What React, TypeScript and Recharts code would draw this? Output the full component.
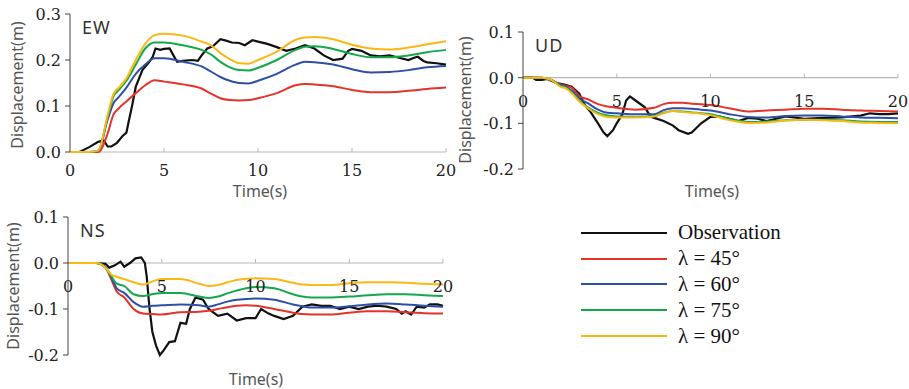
import React from "react";
import { LineChart, Line, XAxis, YAxis, ReferenceLine } from "recharts";

const X_TICKS = [0, 5, 10, 15, 20];

const SERIES_NAMES = ["Observation", "λ = 45°", "λ = 60°", "λ = 75°", "λ = 90°"];
const COLORS = ["#111111", "#e5332a", "#2f4ea5", "#14a84b", "#fbb715"];

// shared time grid for the simulated curves
const MODEL_T = [0, 1, 1.5, 2, 2.3, 2.6, 3, 3.5, 4, 4.5, 5, 6, 7, 7.5, 8, 8.5, 9, 9.5, 10, 11, 12, 12.5, 13, 14, 15, 16, 17, 18, 19, 20];

// ---- EW ----
const EW_Y_TICKS = [0, 0.1, 0.2, 0.3];
const EW_OBS = [
  [0, 0], [0.5, 0], [1, 0.01], [1.5, 0.022], [1.8, 0.025], [2, 0.012], [2.2, 0.012], [2.5, 0.02], [2.8, 0.035],
  [3, 0.042], [3.1, 0.062], [3.3, 0.1], [3.5, 0.142], [3.85, 0.178], [4.2, 0.195], [4.4, 0.207], [4.55, 0.225],
  [4.8, 0.222], [5, 0.224], [5.3, 0.225], [5.5, 0.21], [5.7, 0.196], [6, 0.198], [6.5, 0.2], [6.8, 0.198],
  [7, 0.21], [7.3, 0.225], [7.6, 0.23], [8, 0.245], [8.3, 0.242], [8.6, 0.238], [9, 0.237], [9.3, 0.232],
  [9.7, 0.243], [10, 0.24], [10.5, 0.235], [11, 0.228], [11.5, 0.22], [12, 0.225], [12.5, 0.232], [13, 0.225],
  [13.5, 0.21], [14, 0.2], [14.5, 0.203], [14.8, 0.22], [15, 0.224], [15.5, 0.22], [16, 0.21], [16.5, 0.208],
  [17, 0.21], [17.5, 0.205], [18, 0.2], [18.3, 0.205], [18.5, 0.207], [18.8, 0.198], [19, 0.195], [19.5, 0.193], [20, 0.19],
];
const EW_45 = [0, 0, 0, 0.04, 0.08, 0.095, 0.11, 0.128, 0.145, 0.156, 0.153, 0.147, 0.138, 0.127, 0.117, 0.113, 0.112, 0.113, 0.117, 0.128, 0.145, 0.148, 0.147, 0.143, 0.135, 0.13, 0.13, 0.133, 0.137, 0.14];
const EW_60 = [0, 0, 0.003, 0.07, 0.105, 0.12, 0.14, 0.17, 0.19, 0.204, 0.204, 0.196, 0.186, 0.175, 0.163, 0.155, 0.15, 0.149, 0.155, 0.17, 0.19, 0.196, 0.195, 0.19, 0.18, 0.173, 0.174, 0.178, 0.184, 0.187];
const EW_75 = [0, 0, 0.003, 0.075, 0.12, 0.135, 0.155, 0.19, 0.225, 0.238, 0.238, 0.232, 0.222, 0.212, 0.196, 0.184, 0.178, 0.177, 0.183, 0.2, 0.222, 0.229, 0.23, 0.224, 0.213, 0.206, 0.206, 0.21, 0.217, 0.222];
const EW_90 = [0, 0, 0.003, 0.08, 0.125, 0.14, 0.16, 0.2, 0.235, 0.254, 0.257, 0.253, 0.24, 0.232, 0.215, 0.202, 0.193, 0.192, 0.2, 0.218, 0.244, 0.249, 0.25, 0.245, 0.233, 0.225, 0.223, 0.227, 0.234, 0.241];

// ---- UD ----
const UD_Y_TICKS = [-0.2, -0.1, 0, 0.1];
const UD_OBS = [
  [0, 0], [0.5, 0], [0.7, -0.005], [1, -0.005], [1.3, -0.003], [1.8, -0.012], [2.2, -0.015], [2.6, -0.02],
  [3, -0.035], [3.3, -0.06], [3.6, -0.075], [4, -0.1], [4.3, -0.12], [4.5, -0.128], [4.8, -0.115], [5, -0.1],
  [5.3, -0.08], [5.5, -0.05], [5.7, -0.041], [6, -0.05], [6.5, -0.065], [6.8, -0.085], [7, -0.088], [7.5, -0.095],
  [8, -0.105], [8.3, -0.115], [8.8, -0.123], [9, -0.12], [9.5, -0.1], [10, -0.086], [10.5, -0.085], [11, -0.09],
  [11.5, -0.095], [12, -0.088], [12.5, -0.09], [13, -0.095], [13.5, -0.09], [14, -0.085], [15, -0.09], [16, -0.088],
  [17, -0.087], [18, -0.083], [18.5, -0.078], [19, -0.08], [19.5, -0.08], [20, -0.078],
];
const UD_45 = [0, 0, -0.005, -0.015, -0.018, -0.022, -0.04, -0.048, -0.058, -0.063, -0.066, -0.07, -0.066, -0.058, -0.055, -0.055, -0.057, -0.058, -0.06, -0.067, -0.074, -0.073, -0.072, -0.07, -0.068, -0.068, -0.07, -0.072, -0.073, -0.074];
const UD_60 = [0, 0, -0.005, -0.016, -0.02, -0.028, -0.045, -0.057, -0.07, -0.077, -0.078, -0.08, -0.08, -0.071, -0.067, -0.067, -0.068, -0.07, -0.072, -0.08, -0.086, -0.087, -0.087, -0.084, -0.083, -0.083, -0.085, -0.087, -0.088, -0.089];
const UD_75 = [0, 0, -0.005, -0.018, -0.022, -0.032, -0.05, -0.066, -0.077, -0.083, -0.085, -0.086, -0.084, -0.077, -0.073, -0.074, -0.076, -0.078, -0.08, -0.09, -0.097, -0.097, -0.096, -0.093, -0.092, -0.092, -0.093, -0.096, -0.097, -0.097];
const UD_90 = [0, 0, -0.005, -0.02, -0.024, -0.034, -0.052, -0.068, -0.08, -0.086, -0.087, -0.087, -0.085, -0.078, -0.073, -0.075, -0.077, -0.079, -0.082, -0.093, -0.099, -0.099, -0.098, -0.094, -0.092, -0.093, -0.095, -0.098, -0.099, -0.1];

// ---- NS ----
const NS_Y_TICKS = [-0.2, -0.1, 0, 0.1];
const NS_OBS = [
  [0, 0], [1.5, 0], [2, -0.002], [2.2, -0.01], [2.5, -0.005], [2.8, 0.003], [3, -0.008], [3.3, 0], [3.6, 0.01],
  [3.9, 0.012], [4.1, 0], [4.2, -0.03], [4.35, -0.1], [4.5, -0.15], [4.7, -0.18], [4.9, -0.2], [5.1, -0.19],
  [5.4, -0.172], [5.7, -0.17], [6, -0.13], [6.3, -0.132], [6.5, -0.1], [6.8, -0.075], [7.2, -0.08], [7.5, -0.1],
  [8, -0.115], [8.5, -0.11], [9, -0.125], [9.5, -0.12], [10, -0.12], [10.3, -0.1], [10.7, -0.11], [11, -0.115],
  [11.5, -0.122], [12, -0.115], [12.5, -0.095], [13, -0.09], [13.5, -0.093], [14, -0.093], [14.5, -0.1], [15, -0.095],
  [15.5, -0.1], [16, -0.095], [16.5, -0.093], [17, -0.095], [17.5, -0.1], [17.8, -0.11], [18, -0.105], [18.3, -0.112],
  [18.6, -0.095], [19, -0.097], [19.3, -0.09], [19.7, -0.09], [20, -0.093],
];
const NS_45 = [0, 0, 0, -0.01, -0.035, -0.062, -0.075, -0.1, -0.11, -0.111, -0.112, -0.107, -0.106, -0.104, -0.1, -0.096, -0.093, -0.092, -0.093, -0.1, -0.108, -0.111, -0.112, -0.112, -0.108, -0.105, -0.105, -0.107, -0.109, -0.11];
const NS_60 = [0, 0, 0, -0.01, -0.03, -0.055, -0.065, -0.085, -0.095, -0.093, -0.092, -0.09, -0.092, -0.095, -0.09, -0.084, -0.08, -0.078, -0.077, -0.08, -0.09, -0.094, -0.097, -0.097, -0.094, -0.09, -0.088, -0.09, -0.093, -0.095];
const NS_75 = [0, 0, 0, -0.01, -0.028, -0.045, -0.05, -0.068, -0.072, -0.068, -0.065, -0.065, -0.073, -0.076, -0.073, -0.066, -0.06, -0.055, -0.052, -0.055, -0.068, -0.073, -0.075, -0.075, -0.073, -0.07, -0.068, -0.068, -0.07, -0.072];
const NS_90 = [0, 0, 0, -0.01, -0.025, -0.03, -0.035, -0.042, -0.047, -0.04, -0.035, -0.035, -0.045, -0.05, -0.048, -0.042, -0.037, -0.034, -0.033, -0.035, -0.043, -0.047, -0.048, -0.048, -0.044, -0.042, -0.042, -0.043, -0.045, -0.047];

const pairs = (p: number[][]) => p.map(([t, v]) => ({ t, v }));
const onGrid = (vals: number[]) => MODEL_T.map((t, i) => ({ t, v: vals[i] }));

const TICK_FONT = "'DejaVu Serif', serif";
const LABEL_FONT = "'Noto Sans', 'DejaVu Sans', sans-serif";
const AXIS_GRAY = "#b5b5b5";

type PanelProps = {
  name: string;
  left: number;
  top: number;
  width: number;
  height: number;
  plot: { l: number; r: number; t: number; b: number };
  yDomain: [number, number];
  yTicks: number[];
  xLabelDy: number;
  obs: number[][];
  models: number[][];
};

const Panel: React.FC<PanelProps> = ({ name, left, top, width, height, plot, yDomain, yTicks, xLabelDy, obs, models }) => {
  const plotH = plot.b - plot.t;
  const zeroY = plot.t + ((yDomain[1] - 0) / (yDomain[1] - yDomain[0])) * plotH;

  const xTick = (props: any) => {
    const { x, payload } = props;
    return (
      <g>
        {payload.value !== 0 && <line x1={x} x2={x} y1={zeroY} y2={zeroY - 4} stroke={AXIS_GRAY} />}
        <text x={x} y={zeroY + xLabelDy} textAnchor="middle" fontFamily={TICK_FONT} fontSize={16} fill="#222">
          {payload.value}
        </text>
      </g>
    );
  };

  const yTick = (props: any) => {
    const { x, y, payload } = props;
    return (
      <text x={x - 2} y={y + 6} textAnchor="end" fontFamily={TICK_FONT} fontSize={16} fill="#222">
        {payload.value.toFixed(1)}
      </text>
    );
  };

  return (
    <div style={{ position: "absolute", left, top, width, height }}>
      <LineChart
        width={width}
        height={height}
        margin={{ top: plot.t, right: width - plot.r, left: 0, bottom: 0 }}
      >
        <XAxis
          dataKey="t"
          type="number"
          domain={[0, 20]}
          ticks={X_TICKS}
          height={height - plot.b}
          axisLine={false}
          tickLine={false}
          tick={xTick}
          interval={0}
        />
        <YAxis
          type="number"
          domain={yDomain}
          ticks={yTicks}
          width={plot.l}
          axisLine={{ stroke: "#444" }}
          tickLine={{ stroke: "#444" }}
          tickSize={5}
          tick={yTick}
          interval={0}
        />
        <ReferenceLine y={0} stroke={AXIS_GRAY} strokeWidth={1.2} />
        <Line data={pairs(obs)} dataKey="v" type="linear" stroke={COLORS[0]} strokeWidth={2.2} dot={false} isAnimationActive={false} />
        {models.map((m, i) => (
          <Line
            key={i}
            data={onGrid(m)}
            dataKey="v"
            type="monotone"
            stroke={COLORS[i + 1]}
            strokeWidth={2}
            dot={false}
            isAnimationActive={false}
          />
        ))}
      </LineChart>
      <div style={{ position: "absolute", left: plot.l + 12, top: plot.t + 1, fontFamily: LABEL_FONT, fontSize: 18, color: "#333", letterSpacing: 1 }}>
        {name}
      </div>
    </div>
  );
};

const AxisText: React.FC<{ x: number; y: number; rotate?: boolean; children: React.ReactNode }> = ({ x, y, rotate, children }) => (
  <div
    style={{
      position: "absolute",
      left: x,
      top: y,
      transform: `translate(-50%, -50%)${rotate ? " rotate(-90deg)" : ""}`,
      fontFamily: LABEL_FONT,
      fontSize: 16,
      color: "#555",
      whiteSpace: "nowrap",
      lineHeight: 1,
    }}
  >
    {children}
  </div>
);

export default function App() {
  return (
    <div style={{ position: "absolute", left: 0, top: 0, width: 909, height: 389, background: "#fff", overflow: "hidden" }}>
      <Panel
        name="EW"
        left={0}
        top={0}
        width={460}
        height={200}
        plot={{ l: 70, r: 446, t: 14, b: 152 }}
        yDomain={[0, 0.3]}
        yTicks={EW_Y_TICKS}
        xLabelDy={24}
        obs={EW_OBS}
        models={[EW_45, EW_60, EW_75, EW_90]}
      />
      <Panel
        name="UD"
        left={450}
        top={0}
        width={459}
        height={200}
        plot={{ l: 73, r: 448, t: 32, b: 169 }}
        yDomain={[-0.2, 0.1]}
        yTicks={UD_Y_TICKS}
        xLabelDy={29}
        obs={UD_OBS}
        models={[UD_45, UD_60, UD_75, UD_90]}
      />
      <Panel
        name="NS"
        left={0}
        top={200}
        width={460}
        height={189}
        plot={{ l: 68, r: 443, t: 17, b: 155 }}
        yDomain={[-0.2, 0.1]}
        yTicks={NS_Y_TICKS}
        xLabelDy={29}
        obs={NS_OBS}
        models={[NS_45, NS_60, NS_75, NS_90]}
      />

      <AxisText x={260} y={191}>Time(s)</AxisText>
      <AxisText x={712} y={191}>Time(s)</AxisText>
      <AxisText x={256} y={379}>Time(s)</AxisText>
      <AxisText x={17} y={85} rotate>Displacement(m)</AxisText>
      <AxisText x={465} y={100} rotate>Displacement(m)</AxisText>
      <AxisText x={13} y={286} rotate>Displacement(m)</AxisText>

      <div style={{ position: "absolute", left: 581, top: 220 }}>
        {SERIES_NAMES.map((n, i) => (
          <div key={n} style={{ display: "flex", alignItems: "center", height: 25.8 }}>
            <div style={{ width: 86, height: 2, background: COLORS[i] }} />
            <span style={{ marginLeft: 11, fontFamily: "'Liberation Serif', 'DejaVu Serif', serif", fontSize: 21, color: "#111" }}>{n}</span>
          </div>
        ))}
      </div>
    </div>
  );
}
